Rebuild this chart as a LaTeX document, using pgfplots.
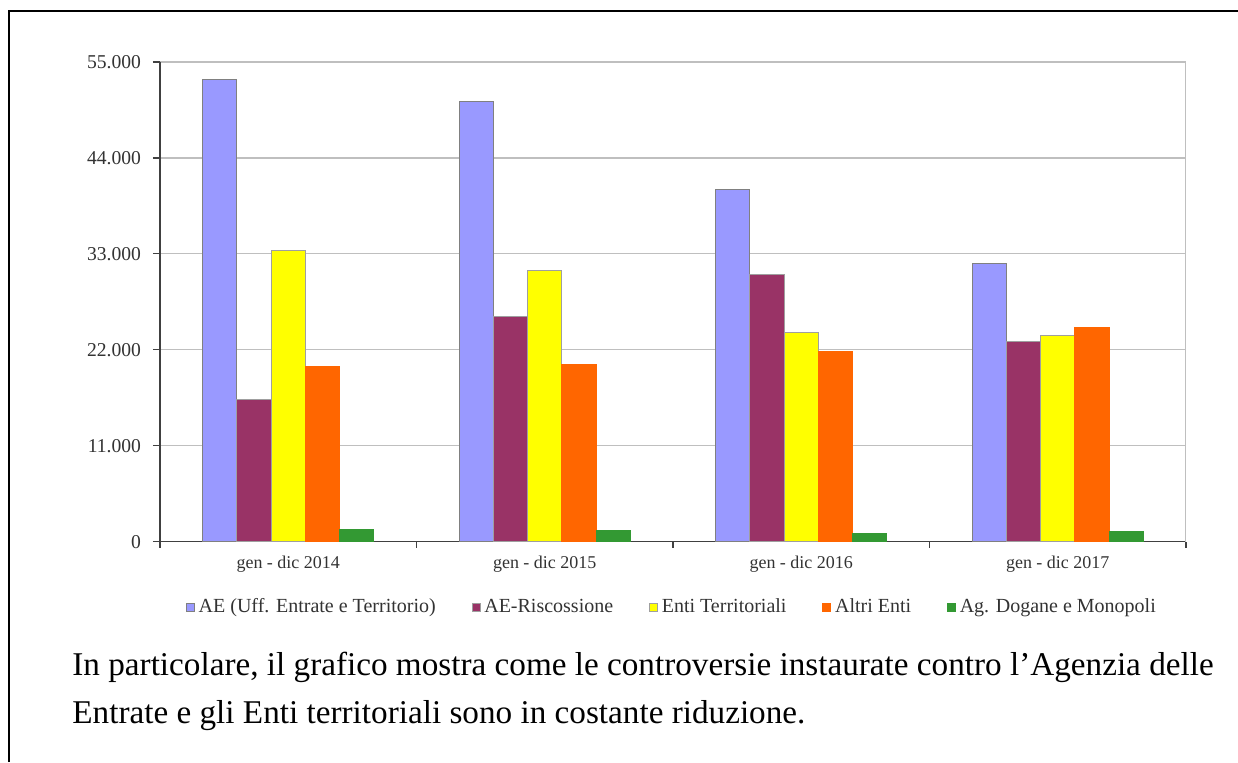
\documentclass[border=0pt]{standalone}
\usepackage{fontspec}
\setmainfont{Liberation Serif}
\usepackage{pgfplots}
\usepackage{pgfplotstable}
\pgfplotsset{compat=1.18}
\definecolor{cAE}{HTML}{9999FF}
\definecolor{cRis}{HTML}{993366}
\definecolor{cEnti}{HTML}{FFFF00}
\definecolor{cAltri}{HTML}{FF6600}
\definecolor{cDog}{HTML}{339933}
\definecolor{gridc}{HTML}{BFBFBF}
\definecolor{axc}{HTML}{404040}
\definecolor{txt}{HTML}{333333}
\pgfplotstableread{
x AE Ris Enti Altri Dog
0 53050 16300 33350 20050 1420
1 50420 25830 31050 20330 1330
2 40410 30670 23950 21850 900
3 31900 22920 23690 24600 1220
}\datatab
\begin{document}
\begin{tikzpicture}
\path[use as bounding box] (0,0) rectangle (619pt,381pt);
\draw[line width=1pt] (4.5pt,0) -- (4.5pt,375.5pt) -- (619pt,375.5pt);
\begin{axis}[
  at={(80pt,110.15pt)}, anchor=south west,
  scale only axis, width=513pt, height=239.85pt,
  ybar=0pt, bar width=17.13pt,
  xmin=-0.5, xmax=3.5, ymin=0, ymax=55000,
  enlargelimits=false,
  axis x line*=bottom, axis y line*=left,
  axis line style={-, draw=axc, line width=0.6pt},
  tick align=outside,
  ytick={0,11000,22000,33000,44000,55000},
  yticklabels={0,11.000,22.000,33.000,44.000,55.000},
  scaled y ticks=false,
  ymajorgrids, grid style={draw=gridc, line width=0.6pt},
  xtick={0,1,2,3},
  xticklabels={gen - dic 2014,gen - dic 2015,gen - dic 2016,gen - dic 2017},
  major x tick style={draw=none},
  minor xtick={-0.5,0.5,1.5,2.5,3.5},
  minor tick length=3pt,
  major tick length=3.5pt,
  tick style={draw=axc, line width=0.6pt},
  yticklabel style={font=\fontsize{9.8}{11}\selectfont, text=txt, xshift=-2.5pt},
  xticklabel style={font=\fontsize{9}{11}\selectfont, text=txt},
  legend columns=5,
  legend style={at={(0.5,-0.136)}, anchor=center, draw=none,
    font=\fontsize{10}{12}\selectfont, text=txt,
    /tikz/every even column/.append style={column sep=16pt}},
  legend image code/.code={\path[#1, line width=0.3pt] (0pt,-2pt) rectangle (4pt,2pt);},
  every axis plot/.append style={draw=gray!75, line width=0.5pt},
]
\addplot[fill=cAE, draw=gray] table[x=x,y=AE]{\datatab};
\addplot[fill=cRis] table[x=x,y=Ris]{\datatab};
\addplot[fill=cEnti] table[x=x,y=Enti]{\datatab};
\addplot[fill=cAltri, draw=cAltri] table[x=x,y=Altri]{\datatab};
\addplot[fill=cDog, draw=cDog] table[x=x,y=Dog]{\datatab};
\legend{AE (Uff. Entrate e Territorio),AE-Riscossione,Enti Territoriali,Altri Enti,Ag. Dogane e Monopoli}
\draw[gridc, line width=0.6pt] (rel axis cs:1,0) -- (rel axis cs:1,1);
\end{axis}
\node[anchor=base west, inner sep=0pt, font=\fontsize{16.6}{24}\selectfont] at (36pt,43.5pt) {In particolare, il grafico mostra come le controversie instaurate contro l’Agenzia delle};
\node[anchor=base west, inner sep=0pt, font=\fontsize{16.6}{24}\selectfont] at (36pt,19.5pt) {Entrate e gli Enti territoriali sono in costante riduzione.};
\end{tikzpicture}
\end{document}
